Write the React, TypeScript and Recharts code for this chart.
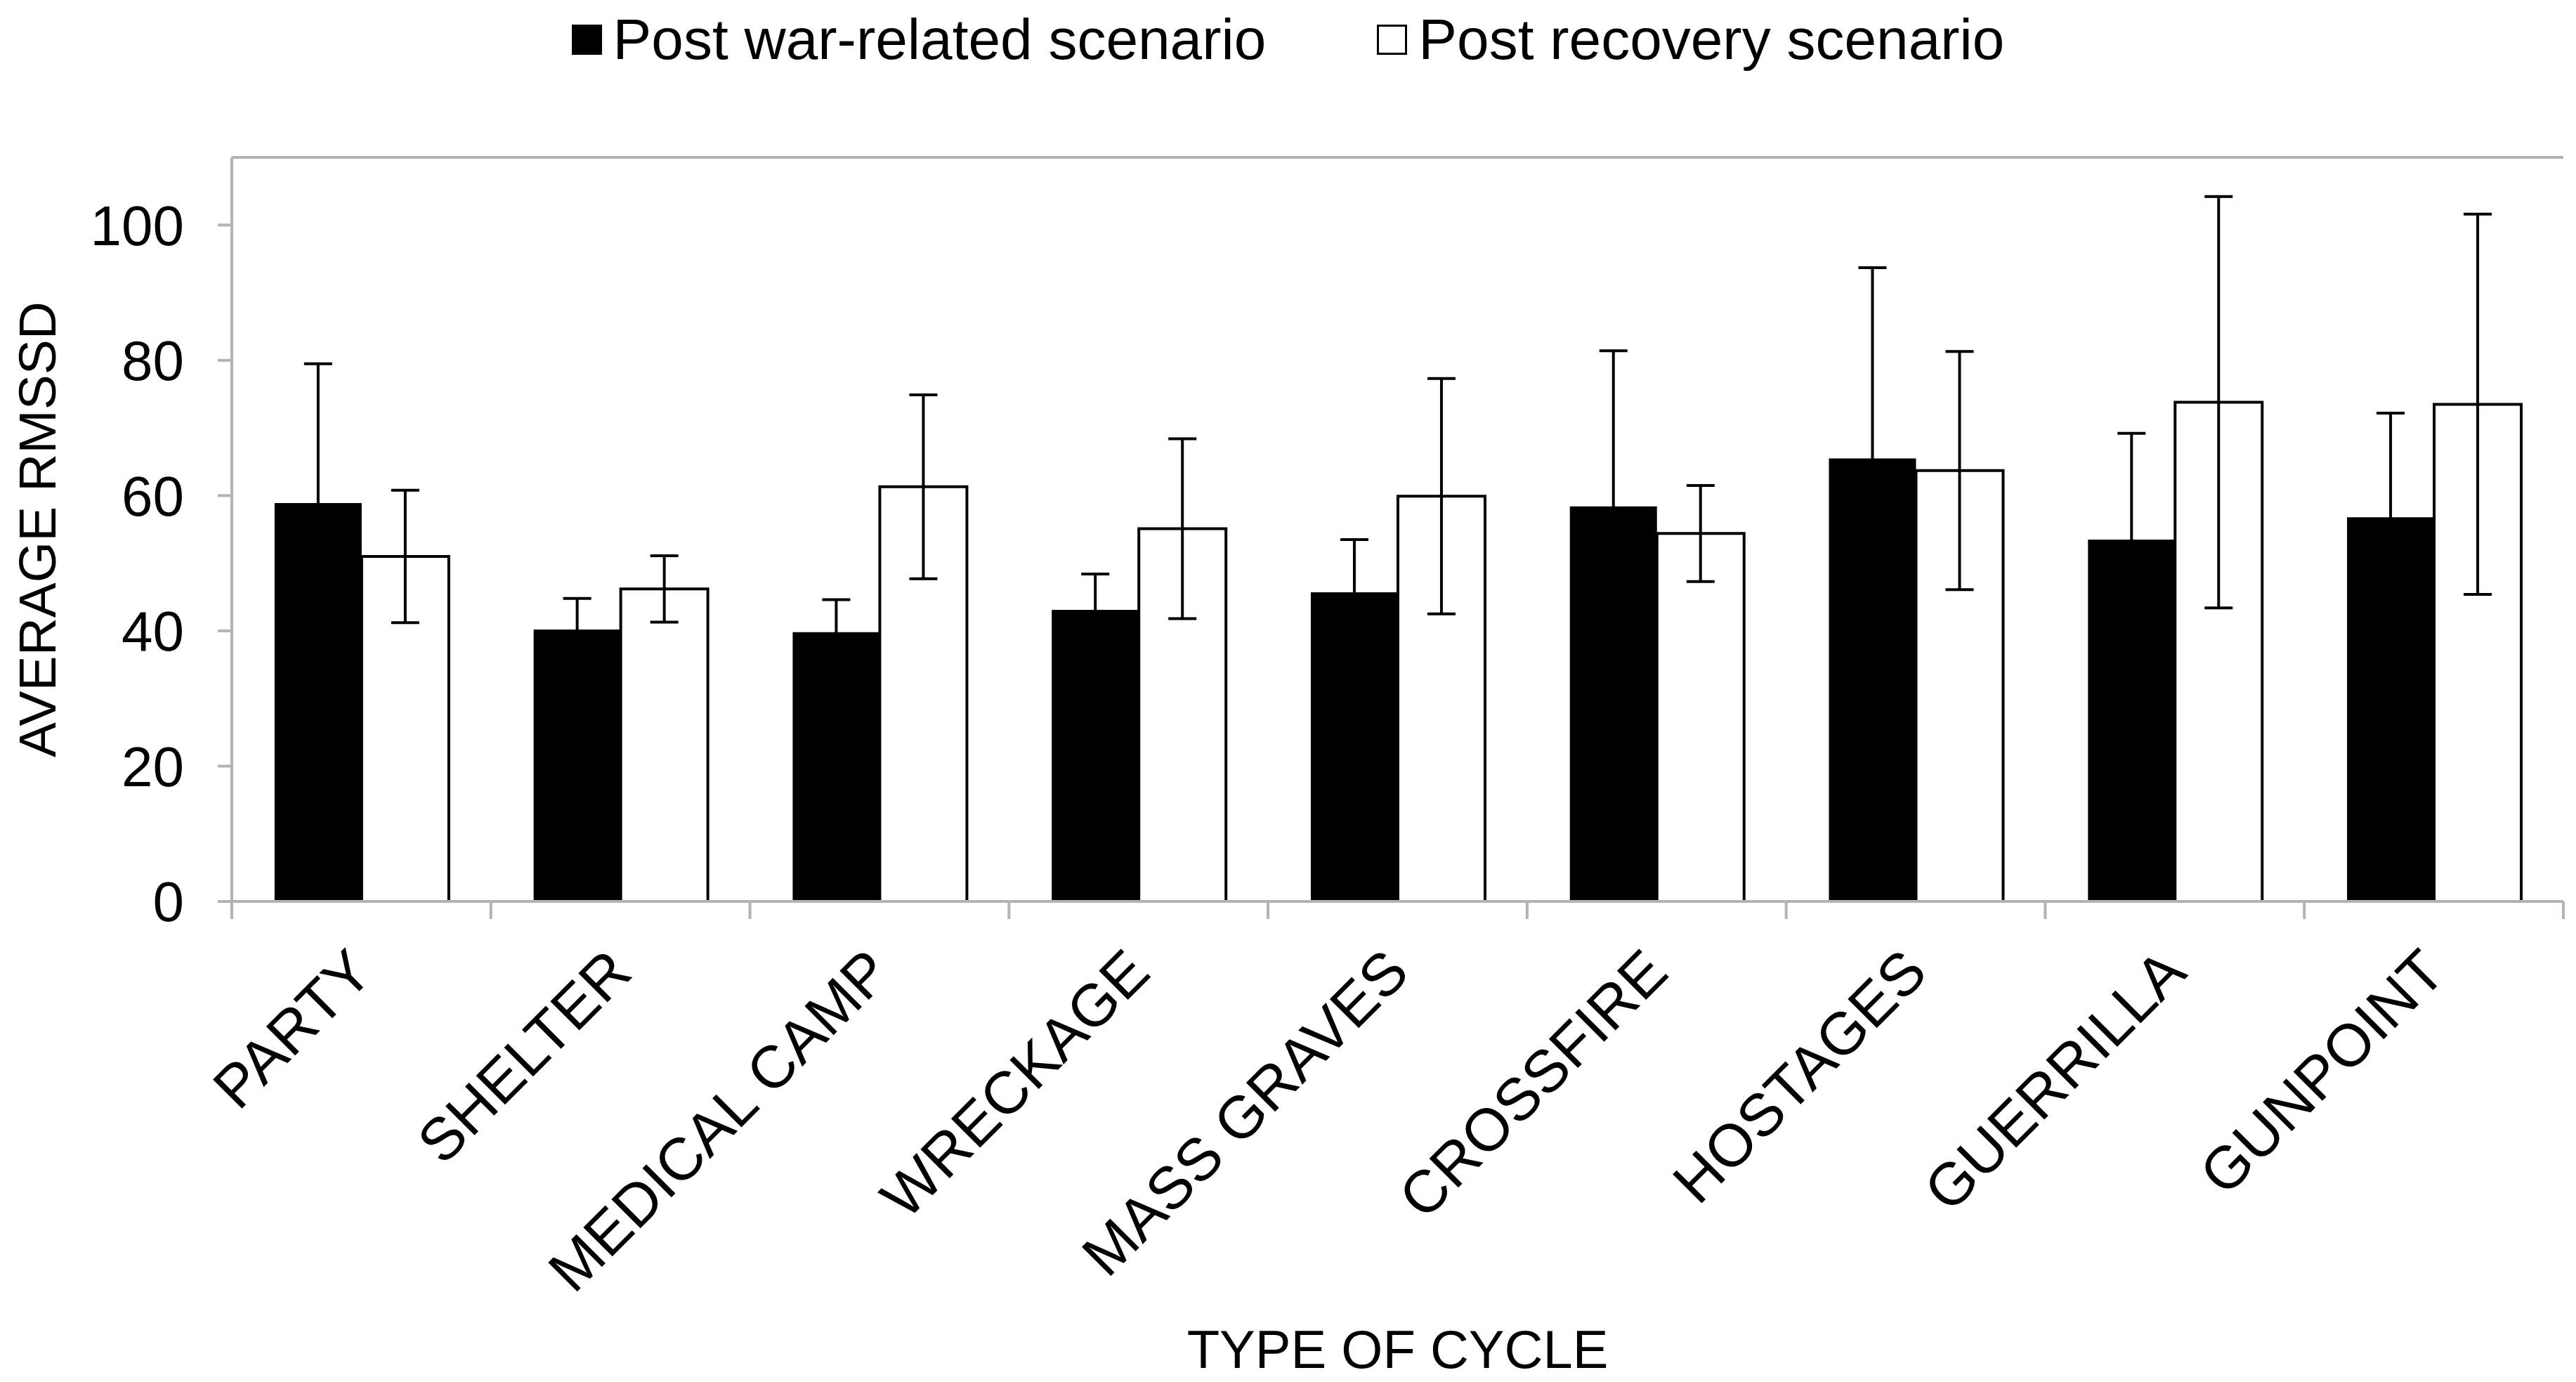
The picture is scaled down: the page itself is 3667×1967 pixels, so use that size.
import React from 'react';
import { BarChart, Bar, XAxis, YAxis, ErrorBar, Legend, ReferenceLine } from 'recharts';

const categories = ['PARTY', 'SHELTER', 'MEDICAL CAMP', 'WRECKAGE', 'MASS GRAVES', 'CROSSFIRE', 'HOSTAGES', 'GUERRILLA', 'GUNPOINT'];
const warMeans = [58.9, 40.2, 39.8, 43.1, 45.7, 58.4, 65.5, 53.5, 56.8];
const warErr = [20.6, 4.6, 4.8, 5.3, 7.8, 23.0, 28.2, 15.7, 15.4];
const recoveryMeans = [51.0, 46.2, 61.3, 55.1, 59.9, 54.4, 63.7, 73.8, 73.5];
const recoveryErr = [9.8, 4.9, 13.6, 13.3, 17.4, 7.1, 17.6, 30.4, 28.1];
const yTicks = [0, 20, 40, 60, 80, 100];

const FONT = "'Liberation Sans', Arial, sans-serif";
const GRAY = '#b3b3b3';

const data = categories.map((name, i) => ({
  name,
  war: warMeans[i],
  warErr: warErr[i],
  recovery: recoveryMeans[i],
  recoveryErr: recoveryErr[i],
}));

// label rotated -45deg, plus tick marks on the category boundaries (Excel style)
function CategoryTick(props: any) {
  const { x, y, payload, index, visibleTicksCount } = props;
  const half = payload.offset || 0;
  const ax = x + 20;
  const ay = y + 105;
  const isLast = index === visibleTicksCount - 1;
  return (
    <g>
      <line x1={x - half} y1={y} x2={x - half} y2={y + 25} stroke={GRAY} strokeWidth={4} />
      {isLast && <line x1={x + half} y1={y} x2={x + half} y2={y + 25} stroke={GRAY} strokeWidth={4} />}
      <text
        x={ax}
        y={ay}
        transform={`rotate(-45, ${ax}, ${ay})`}
        textAnchor="end"
        fontSize={85}
        fontFamily={FONT}
        fill="#000"
      >
        {payload.value}
      </text>
    </g>
  );
}

function LegendBox() {
  const item = (label: string, fill: string) => (
    <div style={{ display: 'flex', alignItems: 'center' }}>
      <div style={{ width: 43, height: 43, background: fill, border: '3px solid #000', boxSizing: 'border-box', marginRight: 16 }} />
      <span>{label}</span>
    </div>
  );
  return (
    <div style={{ display: 'flex', justifyContent: 'center', alignItems: 'center', gap: 158, height: 112, fontSize: 82, fontFamily: FONT, color: '#000' }}>
      {item('Post war-related scenario', '#000')}
      {item('Post recovery scenario', '#fff')}
    </div>
  );
}

export default function App() {
  return (
    <div style={{ width: 3667, height: 1967, background: '#fff' }}>
      <style>{'body{margin:0}'}</style>
      <BarChart
        width={3667}
        height={1967}
        data={data}
        margin={{ top: 224, right: 18, bottom: 0, left: 0 }}
        barCategoryGap="16.5%"
        barGap={0}
      >
        <XAxis
          xAxisId="cat"
          dataKey="name"
          interval={0}
          height={684}
          axisLine={{ stroke: GRAY, strokeWidth: 4 }}
          tickLine={false}
          tickSize={0}
          tickMargin={0}
          tick={<CategoryTick />}
          label={{
            content: (p: any) => (
              <text
                x={p.viewBox.x + p.viewBox.width / 2}
                y={p.viewBox.y + 664}
                textAnchor="middle"
                fontSize={76}
                fontFamily={FONT}
                fill="#000"
              >
                TYPE OF CYCLE
              </text>
            ),
          }}
        />
        <YAxis
          yAxisId="left"
          width={330}
          domain={[0, 110]}
          ticks={yTicks}
          tickSize={20}
          tickMargin={48}
          axisLine={{ stroke: GRAY, strokeWidth: 4 }}
          tickLine={{ stroke: GRAY, strokeWidth: 4 }}
          tick={{ fontSize: 80, fontFamily: FONT, fill: '#000' }}
          label={{
            content: (p: any) => (
              <text
                x={79}
                y={p.viewBox.y + p.viewBox.height / 2}
                transform={`rotate(-90, 79, ${p.viewBox.y + p.viewBox.height / 2})`}
                textAnchor="middle"
                fontSize={75}
                fontFamily={FONT}
                fill="#000"
              >
                AVERAGE RMSSD
              </text>
            ),
          }}
        />
        <YAxis
          yAxisId="right"
          orientation="right"
          width={0}
          domain={[0, 110]}
          tick={false}
          tickLine={false}
          axisLine={{ stroke: GRAY, strokeWidth: 4 }}
        />
        <ReferenceLine xAxisId="cat" yAxisId="left" y={110} stroke={GRAY} strokeWidth={4} />
        <Legend
          verticalAlign="middle"
          align="center"
          content={<LegendBox />}
          wrapperStyle={{ top: 0, left: 0, width: 3667, height: 112 }}
        />
        <Bar xAxisId="cat" yAxisId="left" dataKey="war" name="Post war-related scenario" fill="#000" isAnimationActive={false}>
          <ErrorBar dataKey="warErr" width={20} stroke="#000" strokeWidth={4} />
        </Bar>
        <Bar
          xAxisId="cat"
          yAxisId="left"
          dataKey="recovery"
          name="Post recovery scenario"
          fill="#fff"
          stroke="#000"
          strokeWidth={4}
          isAnimationActive={false}
        >
          <ErrorBar dataKey="recoveryErr" width={20} stroke="#000" strokeWidth={4} />
        </Bar>
      </BarChart>
    </div>
  );
}
